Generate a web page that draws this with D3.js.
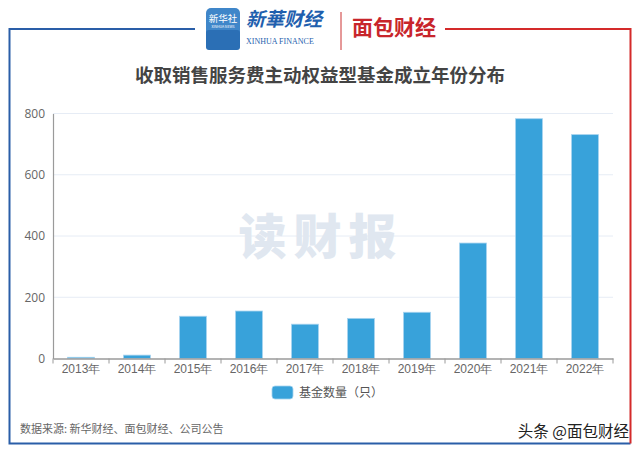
<!DOCTYPE html>
<html><head><meta charset="utf-8">
<script src="https://cdn.jsdelivr.net/npm/d3@7"></script>
<style>
html,body{margin:0;padding:0;background:#fff;}
svg{display:block;font-family:"Noto Sans CJK SC","Noto Sans",sans-serif;}
</style></head>
<body><svg id="c" width="640" height="453"></svg>
<script>
const categories = ["2013年","2014年","2015年","2016年","2017年","2018年","2019年","2020年","2021年","2022年"];
const values = [4, 11, 138, 155, 112, 131, 151, 377, 783, 731];
const yTicks = [0, 200, 400, 600, 800];
const seriesName = "基金数量（只）";
const title = "收取销售服务费主动权益型基金成立年份分布";
const source = "数据来源: 新华财经、面包财经、公司公告";
const brand = "头条 @面包财经";

const svg = d3.select("#c");
const W = 640, H = 453;
const margin = {left: 53, right: 27, top: 113.5, bottom: 94.5};
const x = d3.scaleBand().domain(categories).range([margin.left, W - margin.right]).paddingInner(0.52).paddingOuter(0.26);
const xb = d3.scaleBand().domain(categories).range([margin.left, W - margin.right]);
const y = d3.scaleLinear().domain([0, 800]).range([H - margin.bottom, margin.top]);

// frame
svg.append("path").attr("d", `M195,29 H9.5 V443.5 H630.5`).attr("fill","none").attr("stroke","#2a5ea8").attr("stroke-width",2);
svg.append("path").attr("d", `M445,29 H630.5 V443.5`).attr("fill","none").attr("stroke","#d42a2a").attr("stroke-width",2);

// logos
const lg = svg.append("g");
lg.append("rect").attr("x",206).attr("y",8).attr("width",34).attr("height",42).attr("rx",5).attr("fill","#3f86c9");
lg.append("rect").attr("x",206).attr("y",30).attr("width",34).attr("height",20).attr("rx",3).attr("fill","#2b6fb5");
lg.append("text").attr("x",223).attr("y",22).attr("text-anchor","middle").attr("font-size",9.5).attr("fill","#fff").text("新华社");
lg.append("text").attr("x",223).attr("y",28).attr("text-anchor","middle").attr("font-size",3.5).attr("fill","#fff").text("XINHUA NEWS");
lg.append("text").attr("x",246).attr("y",26).attr("font-size",19).attr("font-style","italic").attr("font-weight","bold").attr("fill","#1f5fae").text("新華财经");
lg.append("text").attr("x",246).attr("y",44).attr("font-size",8).attr("font-family","Liberation Serif").attr("fill","#1f5fae").text("XINHUA FINANCE");
lg.append("line").attr("x1",341).attr("x2",341).attr("y1",12).attr("y2",50).attr("stroke","#c33").attr("stroke-width",1);
lg.append("text").attr("x",352).attr("y",35).attr("font-size",21).attr("font-weight","bold").attr("fill","#c8252b").text("面包财经");

// title
svg.append("text").attr("x",320).attr("y",82).attr("text-anchor","middle").attr("font-size",18.5).attr("font-weight","bold").attr("fill","#444").text(title);

// gridlines
svg.append("g").selectAll("line").data(yTicks.filter(d=>d>0)).join("line")
  .attr("x1",margin.left).attr("x2",W-margin.right)
  .attr("y1",d=>y(d)).attr("y2",d=>y(d)).attr("stroke","#e6ecf5").attr("stroke-width",1);

// watermark
svg.append("text").attr("x",321).attr("y",254).attr("text-anchor","middle").attr("font-size",48).attr("font-weight","900").attr("letter-spacing",7).attr("fill","#e0e7f0").text("读财报");

// bars
svg.append("g").selectAll("rect").data(values).join("rect")
  .attr("x",(d,i)=>x(categories[i])).attr("width",x.bandwidth())
  .attr("y",d=>y(d)).attr("height",d=>y(0)-y(d))
  .attr("fill","#38a2da").attr("stroke","#a6d3ef").attr("stroke-width",0.8);

// y axis
const ya = svg.append("g").attr("transform",`translate(${margin.left},0)`)
  .call(d3.axisLeft(y).tickValues(yTicks).tickSize(0).tickPadding(8));
ya.select(".domain").attr("stroke","#9a9a9a").attr("stroke-width",1.2);
ya.selectAll("text").attr("font-size",12).attr("fill","#666").attr("font-family","Open Sans, Noto Sans, sans-serif");

// x axis
const xa = svg.append("g").attr("transform",`translate(0,${y(0)})`)
  .call(d3.axisBottom(xb).tickSize(0).tickPadding(6));
xa.select(".domain").attr("stroke","#9a9a9a").attr("stroke-width",1.5);
xa.selectAll("text").attr("font-size",12).attr("fill","#666");
svg.append("g").selectAll("line").data(categories.concat(["_end"])).join("line")
  .attr("x1",(d,i)=>margin.left + i*xb.bandwidth()).attr("x2",(d,i)=>margin.left + i*xb.bandwidth())
  .attr("y1",y(0)).attr("y2",y(0)+5).attr("stroke","#9a9a9a").attr("stroke-width",1);

// legend
const leg = svg.append("g");
leg.append("rect").attr("x",272).attr("y",386).attr("width",21).attr("height",13).attr("rx",3).attr("fill","#38a2da").attr("stroke","#a6d3ef").attr("stroke-width",0.8);
leg.append("text").attr("x",299).attr("y",397).attr("font-size",12).attr("fill","#555").text(seriesName);

// footer
svg.append("text").attr("x",20).attr("y",433).attr("font-size",11).attr("fill","#666").text(source);
svg.append("text").attr("x",629).attr("y",437).attr("text-anchor","end").attr("font-size",15.5).attr("fill","#222").text(brand);
</script></body></html>
